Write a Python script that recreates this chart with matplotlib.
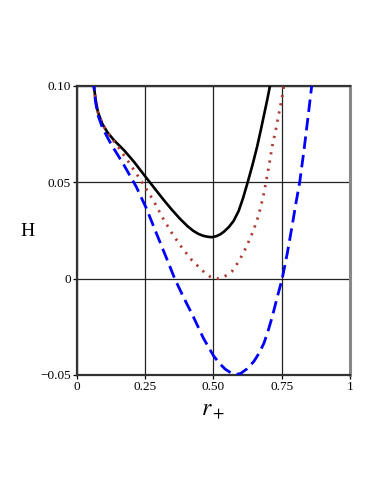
import matplotlib
matplotlib.use("Agg")
import matplotlib.pyplot as plt

plt.rcParams["mathtext.fontset"] = "stix"

# Data
r_black = [0.058, 0.0617, 0.0676, 0.0765, 0.0924, 0.1108, 0.1356, 0.1725, 0.2095, 0.2338, 0.2586,
           0.285, 0.315, 0.346, 0.377, 0.405, 0.426, 0.445, 0.463, 0.480, 0.494, 0.510, 0.524,
           0.537, 0.556, 0.574, 0.592, 0.608, 0.625, 0.643, 0.660, 0.673, 0.685, 0.697, 0.707, 0.712]
H_black = [0.104, 0.1003, 0.0934, 0.0865, 0.0804, 0.0761, 0.0718, 0.0666, 0.0605, 0.0560, 0.0515,
           0.0467, 0.0413, 0.0360, 0.0311, 0.0272, 0.0248, 0.0232, 0.0222, 0.0217, 0.0215, 0.0220, 0.0229,
           0.0242, 0.0267, 0.0300, 0.0350, 0.0416, 0.0498, 0.0590, 0.0685, 0.0768, 0.0848, 0.0928, 0.1000, 0.104]

r_dot = [0.058, 0.0617, 0.0676, 0.0765, 0.0924, 0.1108, 0.130, 0.148, 0.185, 0.2216, 0.243, 0.280,
         0.315, 0.346, 0.377, 0.400, 0.420, 0.451, 0.470, 0.488, 0.506, 0.520, 0.531, 0.549, 0.568,
         0.592, 0.612, 0.629, 0.645, 0.660, 0.672, 0.683, 0.693, 0.704, 0.715, 0.728, 0.740, 0.750,
         0.758, 0.762]
H_dot = [0.104, 0.1003, 0.0934, 0.0865, 0.0804, 0.0760, 0.0722, 0.0688, 0.0614, 0.0536, 0.0490, 0.0405,
         0.0313, 0.0240, 0.0175, 0.0133, 0.0097, 0.0054, 0.0028, 0.0010, 0.0002, 0.0000, 0.0005, 0.0018, 0.0038,
         0.0088, 0.0140, 0.0192, 0.0245, 0.0304, 0.0365, 0.0430, 0.0505, 0.0590, 0.0685, 0.0770, 0.0858, 0.0930,
         0.1000, 0.104]

r_dash = [0.058, 0.0617, 0.0676, 0.0765, 0.0924, 0.1108, 0.130, 0.1415, 0.1725, 0.197, 0.217, 0.254,
          0.291, 0.328, 0.358, 0.389, 0.426, 0.463, 0.500, 0.522, 0.543, 0.565, 0.584, 0.600, 0.623,
          0.648, 0.668, 0.685, 0.700, 0.715, 0.734, 0.752, 0.771, 0.789, 0.802, 0.816, 0.832, 0.847,
          0.860, 0.864]
H_dash = [0.104, 0.1000, 0.0920, 0.0850, 0.0785, 0.0735, 0.0685, 0.0660, 0.0588, 0.0527, 0.0477, 0.0365,
          0.0235, 0.0106, 0.0000, -0.0093, -0.0197, -0.0309, -0.0400, -0.0440, -0.0470, -0.0490, -0.0497, -0.0492, -0.0468,
          -0.0430, -0.0385, -0.0335, -0.0272, -0.0200, -0.0095, 0.0000, 0.0135, 0.0280, 0.0390, 0.0500, 0.0670, 0.0845,
          0.1000, 0.104]

x_ticks = [0, 0.25, 0.5, 0.75, 1]
x_ticklabels = ["0", "0.25", "0.50", "0.75", "1"]
y_ticks = [-0.05, 0, 0.05, 0.10]
y_ticklabels = ["\u22120.05", "0", "0.05", "0.10"]

serif = ["Liberation Serif", "DejaVu Serif"]

fig = plt.figure(figsize=(3.82, 4.94), dpi=100)
ax = fig.add_axes([0.2016, 0.241, 0.7144, 0.585])

ax.set_xlim(0, 1)
ax.set_ylim(-0.05, 0.10)

# grid lines
for xv in x_ticks:
    ax.axvline(xv, color="#222222", lw=0.9, zorder=1)
for yv in y_ticks:
    ax.axhline(yv, color="#222222", lw=0.9, zorder=1)

ax.plot(r_black, H_black, color="black", lw=1.9, zorder=3, solid_joinstyle="round")
ax.plot(r_dot, H_dot, color="#b03a36", lw=2.0, linestyle=(0, (0.8, 2.2)), zorder=3)
ax.plot(r_dash, H_dash, color="#0000ff", lw=2.0, linestyle=(0, (4.5, 2.2)), zorder=3)

ax.set_xticks(x_ticks)
ax.set_xticklabels(x_ticklabels, fontfamily=serif, fontsize=9.5)
ax.set_yticks(y_ticks)
ax.set_yticklabels(y_ticklabels, fontfamily=serif, fontsize=9.5)
ax.tick_params(direction="out", length=3, width=0.9, pad=1.5)

for s in ax.spines.values():
    s.set_linewidth(1.6)
    s.set_color("#333333")
ax.spines["right"].set_color("#888888")
ax.spines["right"].set_linewidth(2.2)

ax.set_xlabel("$r_+$", fontsize=17, labelpad=3)
fig.text(0.072, 0.531, "H", fontfamily=serif, fontsize=14, ha="center", va="center")

fig.savefig("out.png", dpi=100)
